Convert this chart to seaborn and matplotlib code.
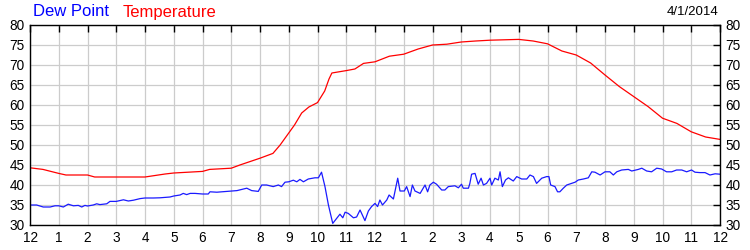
import matplotlib
matplotlib.use("Agg")
import matplotlib.pyplot as plt
import seaborn as sns
import pandas as pd

# Temperature (hours after midnight, deg F)
temp_hours = [0, 0.45, 1.0, 1.25, 2.0, 2.25, 3.0, 4.0, 4.7, 5.0, 6.0, 6.25, 7.0, 7.3, 8.0, 8.45,
              8.7, 9.0, 9.2, 9.45, 9.7, 10.0, 10.25, 10.4, 10.5, 11.0, 11.3, 11.6, 12.0, 12.5, 13.0,
              13.5, 14.0, 14.5, 15.0, 15.5, 16.0, 16.5, 17.0, 17.5, 18.0, 18.5, 19.0, 19.5, 20.0,
              20.5, 21.0, 21.5, 22.0, 22.5, 23.0, 23.5, 24.0]
temp_values = [44.3, 43.9, 42.9, 42.5, 42.5, 42.0, 42.0, 42.0, 42.75, 43.0, 43.4, 43.9, 44.2, 45.0,
               46.7, 47.9, 50.0, 53.0, 55.0, 58.0, 59.5, 60.6, 63.5, 66.5, 68.0, 68.6, 69.0, 70.4,
               70.8, 72.2, 72.7, 74.0, 75.0, 75.2, 75.75, 76.0, 76.2, 76.3, 76.4, 76.0, 75.3, 73.5,
               72.5, 70.5, 67.5, 64.6, 62.1, 59.6, 56.7, 55.4, 53.3, 52.0, 51.4]

# Dew point (hours after midnight, deg F)
dew_hours = [0.0, 0.23, 0.46, 0.70, 0.87, 1.0, 1.16, 1.33, 1.51, 1.68, 1.80, 1.91, 2.0, 2.2, 2.32,
             2.43, 2.67, 2.78, 3.0, 3.25, 3.42, 3.6, 3.83, 4.0, 4.29, 4.52, 4.7, 4.87, 5.0, 5.22,
             5.33, 5.45, 5.57, 5.74, 6.0, 6.2, 6.26, 6.5, 7.0, 7.2, 7.42, 7.54, 7.71, 7.94, 8.06,
             8.23, 8.46, 8.64, 8.75, 8.87, 9.0, 9.16, 9.28, 9.39, 9.51, 9.68, 9.91, 10.03, 10.14,
             10.26, 10.38, 10.53, 10.67, 10.78, 10.88, 10.96, 11.07, 11.25, 11.36, 11.48, 11.65,
             11.77, 11.88, 12.0, 12.09, 12.17, 12.26, 12.41, 12.49, 12.64, 12.79, 12.87, 13.02,
             13.1, 13.22, 13.3, 13.39, 13.57, 13.74, 13.83, 13.91, 14.03, 14.14, 14.32, 14.43,
             14.55, 14.78, 14.9, 15.01, 15.07, 15.25, 15.3, 15.36, 15.48, 15.59, 15.69, 15.77,
             15.88, 16.0, 16.06, 16.17, 16.29, 16.35, 16.43, 16.54, 16.64, 16.81, 16.93, 17.1,
             17.28, 17.39, 17.51, 17.62, 17.8, 17.97, 18.05, 18.11, 18.26, 18.35, 18.43, 18.55,
             18.67, 18.84, 18.96, 19.07, 19.25, 19.42, 19.54, 19.65, 19.83, 20.0, 20.17, 20.29,
             20.41, 20.58, 20.81, 20.93, 21.16, 21.28, 21.45, 21.62, 21.8, 21.97, 22.14, 22.32,
             22.49, 22.67, 22.84, 23.01, 23.13, 23.3, 23.48, 23.65, 23.83, 24.0]
dew_values = [35.0, 35.0, 34.5, 34.5, 34.8, 34.8, 34.5, 35.2, 34.8, 34.9, 34.5, 34.9, 34.75, 35.0,
              35.3, 35.1, 35.3, 35.9, 35.9, 36.3, 36.0, 36.2, 36.6, 36.75, 36.75, 36.8, 36.9, 37.0,
              37.25, 37.5, 37.9, 37.6, 37.9, 37.9, 37.75, 37.75, 38.3, 38.2, 38.5, 38.6, 39.0, 39.2,
              38.6, 38.4, 40.0, 40.0, 39.6, 40.0, 39.6, 40.7, 40.8, 41.2, 40.8, 41.4, 40.8, 41.5,
              41.8, 41.8, 43.2, 39.6, 35.0, 30.4, 31.7, 32.7, 31.8, 33.2, 32.9, 31.8, 32.0, 33.75,
              31.1, 33.5, 34.6, 35.4, 34.6, 36.25, 35.0, 36.25, 37.5, 36.5, 41.7, 38.5, 38.5, 39.6,
              37.1, 40.0, 38.5, 37.9, 40.0, 38.3, 40.0, 40.7, 40.2, 38.75, 38.75, 39.6, 39.8, 39.3,
              40.2, 39.2, 39.2, 40.4, 42.7, 42.9, 40.2, 41.7, 40.0, 40.4, 41.7, 40.0, 41.7, 41.25,
              43.3, 39.6, 41.25, 41.8, 41.0, 42.1, 41.5, 41.5, 42.5, 42.1, 40.4, 41.7, 42.1, 42.1,
              40.0, 39.6, 38.3, 38.3, 39.2, 40.0, 40.4, 40.7, 41.25, 41.5, 41.8, 43.3, 43.2, 42.5,
              43.3, 43.3, 42.5, 43.3, 43.75, 43.9, 43.5, 43.9, 44.2, 43.5, 43.3, 44.2, 44.0, 43.3,
              43.3, 43.75, 43.75, 43.3, 43.75, 43.2, 43.1, 43.1, 42.5, 42.8, 42.7]

hour_labels = ["12", "1", "2", "3", "4", "5", "6", "7", "8", "9", "10", "11",
               "12", "1", "2", "3", "4", "5", "6", "7", "8", "9", "10", "11", "12"]
y_ticks = [30, 35, 40, 45, 50, 55, 60, 65, 70, 75, 80]
date_label = "4/1/2014"

sns.set_style("white")
plt.rcParams["font.family"] = ["Liberation Sans", "DejaVu Sans"]

temp_df = pd.DataFrame({"hour": temp_hours, "value": temp_values})
dew_df = pd.DataFrame({"hour": dew_hours, "value": dew_values})

fig = plt.figure(figsize=(7.5, 2.5), dpi=100)
ax = fig.add_axes([30 / 750, 25 / 250, 690 / 750, 200 / 250])

sns.lineplot(data=temp_df, x="hour", y="value", ax=ax, color="#ff0000", linewidth=0.9)
sns.lineplot(data=dew_df, x="hour", y="value", ax=ax, color="#1a1aff", linewidth=0.9)

ax.set_xlim(0, 24)
ax.set_ylim(30, 80)
ax.set_xticks(range(25))
ax.set_xticklabels(hour_labels)
ax.set_yticks(y_ticks)
ax.set_xlabel("")
ax.set_ylabel("")
ax.grid(True, color="#cccccc", linewidth=0.9)
ax.set_axisbelow(True)
for s in ax.spines.values():
    s.set_color("black")
    s.set_linewidth(1.0)
ax.tick_params(axis="both", which="both", direction="in", length=5, width=1,
               colors="black", labelsize=9.8, top=True, right=True,
               labelright=True, labelleft=True, labeltop=False)
ax.tick_params(axis="y", pad=4)
ax.tick_params(axis="x", pad=4)

fig.text(33 / 750, 1 - 12 / 250, "Dew Point", color="#0000ff", fontsize=12, va="center", ha="left")
fig.text(123 / 750, 1 - 12 / 250, "Temperature", color="#ff0000", fontsize=12, va="center", ha="left")
fig.text(718 / 750, 1 - 12 / 250, date_label, color="black", fontsize=9.5, va="center", ha="right")

fig.savefig("out.png", dpi=100)
